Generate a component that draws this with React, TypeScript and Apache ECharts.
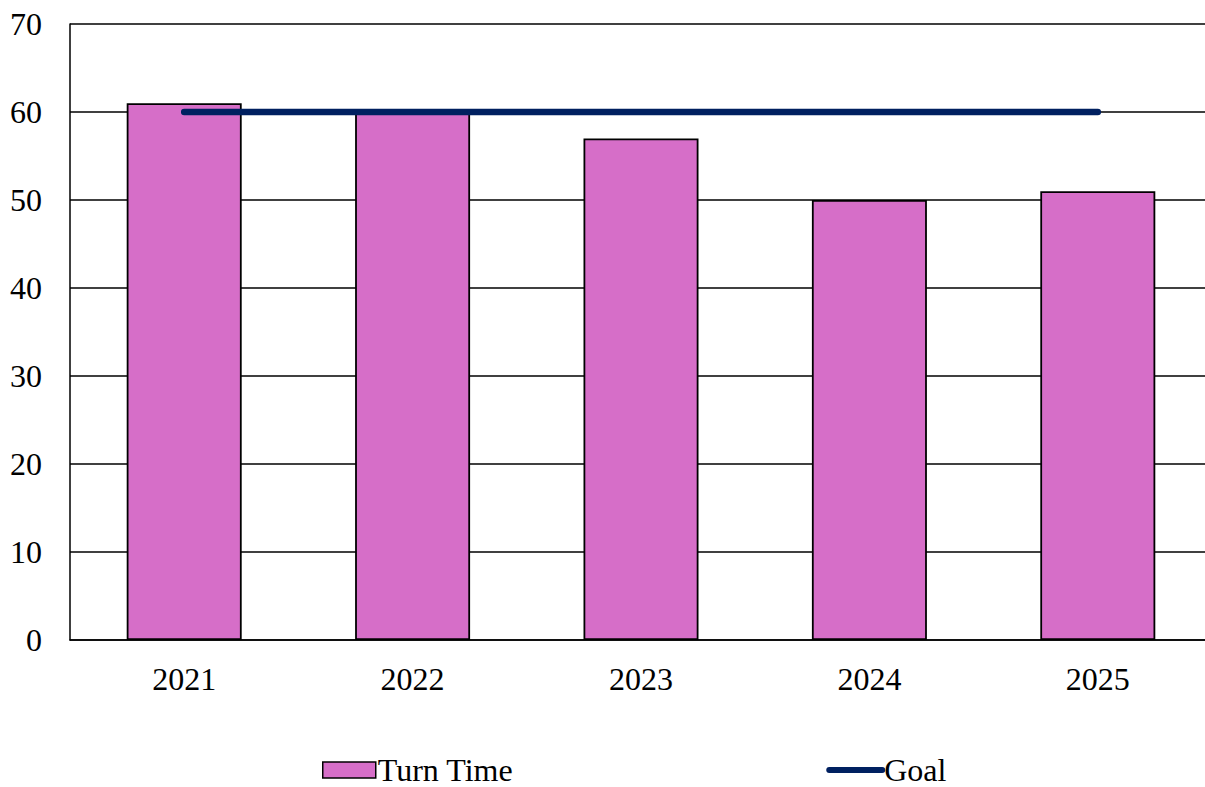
import React, { useEffect, useRef } from "react";
import * as echarts from "echarts";

const years = ["2021", "2022", "2023", "2024", "2025"];
const turnTime = [61, 60, 57, 50, 51];
const goal = [60, 60, 60, 60, 60];
const yTicks = { min: 0, max: 70, interval: 10 };

const FONT = "'Liberation Serif', 'Times New Roman', serif";
const GOAL_COLOR = "#002060";
const FONT_SIZE = 32;

export default function App() {
  const ref = useRef<HTMLDivElement>(null);

  useEffect(() => {
    if (!ref.current) return;
    const chart = echarts.init(ref.current, null, { renderer: "svg" });
    chart.setOption({
      animation: false,
      backgroundColor: "#ffffff",
      textStyle: { fontFamily: FONT, color: "#000" },
      grid: {
        left: 70,
        top: 24,
        width: 1142,
        height: 616,
        containLabel: false,
        outerBoundsMode: "none",
      },
      legend: {
        left: 317,
        top: 749,
        itemWidth: 53,
        itemHeight: 16,
        itemGap: 313,
        textStyle: {
          fontFamily: FONT,
          fontSize: FONT_SIZE,
          color: "#000",
          padding: [0, 0, 0, -3],
        },
        data: [
          {
            name: "Turn Time",
            icon: "rect",
            itemStyle: { borderColor: "#000", borderWidth: 1.5 },
          },
          {
            name: "Goal",
            itemStyle: { opacity: 0 },
            lineStyle: { color: GOAL_COLOR, width: 6, cap: "round" },
          },
        ],
      },
      xAxis: {
        type: "category",
        data: years,
        axisLine: { show: true, lineStyle: { color: "#000", width: 1.5 } },
        axisTick: { show: false },
        axisLabel: { fontFamily: FONT, fontSize: FONT_SIZE, color: "#000", margin: 23 },
      },
      yAxis: {
        type: "value",
        min: yTicks.min,
        max: yTicks.max,
        interval: yTicks.interval,
        axisLine: { show: true, lineStyle: { color: "#000", width: 1.5 } },
        axisTick: { show: false },
        splitLine: { show: true, lineStyle: { color: "#000", width: 1.5 } },
        axisLabel: { fontFamily: FONT, fontSize: FONT_SIZE, color: "#000", margin: 28 },
      },
      series: [
        {
          name: "Turn Time",
          type: "bar",
          data: turnTime,
          barWidth: 115,
          itemStyle: { color: "#d66ec8", borderColor: "#000", borderWidth: 1.8 },
        },
        {
          name: "Goal",
          type: "line",
          data: goal,
          symbol: "none",
          color: GOAL_COLOR,
          lineStyle: { color: GOAL_COLOR, width: 6.5, cap: "round" },
        },
      ],
    });
    return () => chart.dispose();
  }, []);

  return (
    <div
      ref={ref}
      style={{ position: "fixed", left: 0, top: 0, width: 1205, height: 787 }}
    />
  );
}
